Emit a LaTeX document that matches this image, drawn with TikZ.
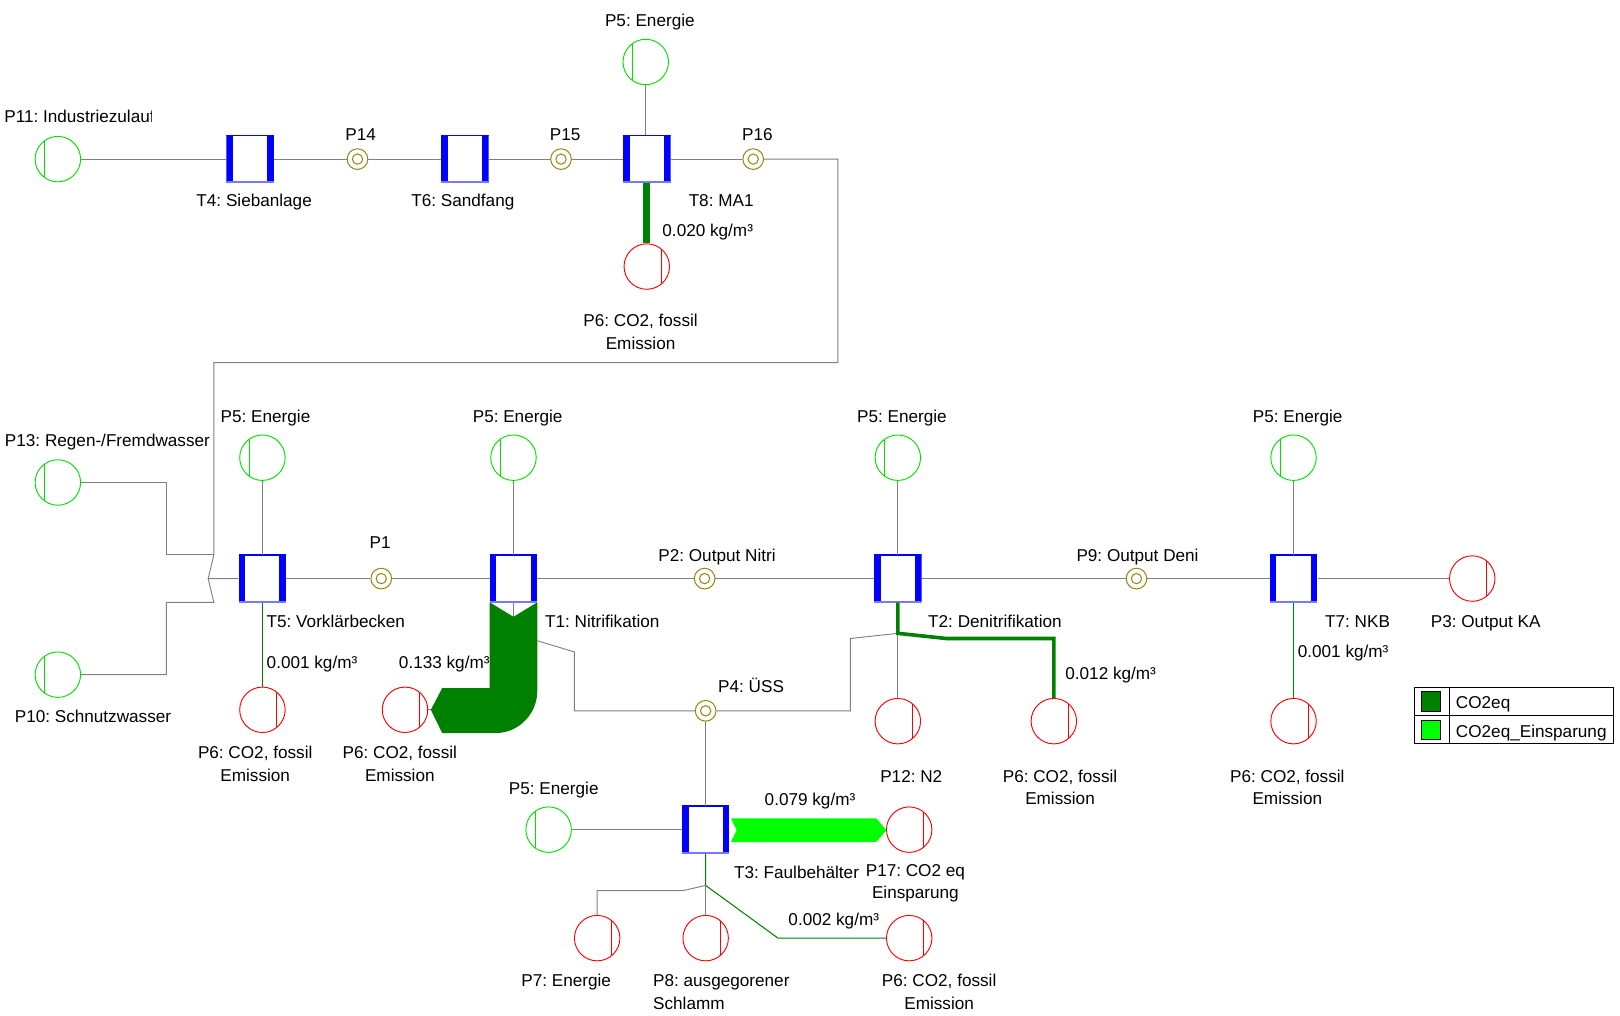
\documentclass[tikz,border=0pt]{standalone}
\usepackage{fontspec}
\setmainfont{Liberation Sans}
\frenchspacing
\definecolor{srcgreen}{RGB}{0,225,0}
\definecolor{snkred}{RGB}{255,0,0}
\definecolor{conngray}{RGB}{128,128,128}
\definecolor{tblue}{RGB}{0,0,255}
\definecolor{tblight}{RGB}{120,120,255}
\definecolor{plolive}{RGB}{150,135,20}
\definecolor{co2}{RGB}{0,128,0}
\definecolor{co2l}{RGB}{0,255,0}
\begin{document}
\frenchspacing
\begin{tikzpicture}[x=1pt,y=-1pt,
  src/.style={circle, draw=srcgreen, line width=0.9pt, minimum size=44pt, inner sep=0pt,
    path picture={\draw[srcgreen, line width=0.9pt] ([xshift=-13pt,yshift=18pt]path picture bounding box.center) -- ([xshift=-13pt,yshift=-18pt]path picture bounding box.center);}},
  snk/.style={circle, draw=snkred, line width=0.9pt, minimum size=44pt, inner sep=0pt,
    path picture={\draw[snkred, line width=0.9pt] ([xshift=14pt,yshift=17pt]path picture bounding box.center) -- ([xshift=14pt,yshift=-19pt]path picture bounding box.center);}},
  trans/.style={rectangle, minimum width=46pt, minimum height=46pt, inner sep=0pt, fill=white,
    path picture={
      \fill[tblue] (path picture bounding box.north west) rectangle ([xshift=6.5pt]path picture bounding box.south west);
      \fill[tblue] (path picture bounding box.north east) rectangle ([xshift=-6.5pt]path picture bounding box.south east);
      \draw[tblue, line width=2pt] (path picture bounding box.north west) -- (path picture bounding box.north east);
      \draw[tblight, line width=3pt] (path picture bounding box.south west) -- (path picture bounding box.south east);}},
  place/.style={circle, draw=plolive, line width=1pt, minimum size=20pt, inner sep=0pt,
    path picture={\draw[plolive, line width=1pt] (path picture bounding box.center) circle[radius=5pt];}},
  conn/.style={draw=conngray, line width=0.9pt},
  co2thin/.style={draw=co2, line width=1pt},
  lbl/.style={font=\fontsize{16.6}{22}\selectfont, inner sep=0pt, align=center},
  lbs/.style={font=\fontsize{16.6}{22}\selectfont, inner sep=0pt, text height=12pt, text depth=0pt, yshift=-1pt},
]
\useasboundingbox (0,0) rectangle (1568,983);

% ---------- nodes: top row
\node[src] (p11) at (56,154) {};
\node[trans] (t4) at (242,154) {};
\node[place] (p14) at (346,154) {};
\node[trans] (t6) at (450,154) {};
\node[place] (p15) at (543,154) {};
\node[trans] (t8) at (626,154) {};
\node[place] (p16) at (729,154) {};
\node[src] (p5a) at (625,60) {};
\node[snk] (p6a) at (626,258) {};

% ---------- middle row
\node[src] (p13) at (56,467) {};
\node[src] (p10) at (56,653) {};
\node[trans] (t5) at (254,560) {};
\node[src] (p5b) at (254,443) {};
\node[place] (p1) at (369,560) {};
\node[snk] (p6b) at (254,687) {};
\node[trans] (t1) at (497,560) {};
\node[src] (p5c) at (497,443) {};
\node[snk] (p6c) at (392,687) {};
\node[place] (p2) at (682,560) {};
\node[trans] (t2) at (869,560) {};
\node[src] (p5d) at (869,443) {};
\node[snk] (p12) at (869,698) {};
\node[snk] (p6d) at (1020,698) {};
\node[place] (p9) at (1100,560) {};
\node[trans] (t7) at (1252,560) {};
\node[src] (p5e) at (1252,443) {};
\node[snk] (p3) at (1425,560) {};
\node[snk] (p6e) at (1252,698) {};
\node[place] (p4) at (683,688) {};

% ---------- bottom
\node[trans] (t3) at (683,803) {};
\node[src] (p5f) at (531,803) {};
\node[snk] (p17) at (880,803) {};
\node[snk] (p7) at (578,908) {};
\node[snk] (p8) at (683,908) {};
\node[snk] (p6f) at (880,908) {};

% ---------- junction coordinates
\coordinate (ja) at (207,537);
\coordinate (jb) at (207,583);
\coordinate (jz) at (201.5,560);
\coordinate (jt2) at (869,613);
\coordinate (jt3) at (683,857);

% ---------- connectors
\draw[conn] (p11) -- (t4);
\draw[conn] (t4) -- (p14);
\draw[conn] (p14) -- (t6);
\draw[conn] (t6) -- (p15);
\draw[conn] (p15) -- (t8);
\draw[conn] (t8) -- (p16);
\draw[conn] (p5a) -- (p5a |- t8.north);
\draw[conn] (p16) -- (811,154) -- (811,351) -- (207,351) -- (ja) -- (jz) -- (t5);
\draw[conn] (p13) -- (161,467) -- (161,537) -- (ja);
\draw[conn] (p10) -- (161,653) -- (161,583) -- (jb) -- (jz);
\draw[conn] (t5) -- (p1);
\draw[conn] (p1) -- (t1);
\draw[conn] (t1) -- (p2);
\draw[conn] (p2) -- (t2);
\draw[conn] (t2) -- (p9);
\draw[conn] (p9) -- (t7);
\draw[conn] (t7) -- (p3);
\draw[conn] (p5b) -- (t5);
\draw[conn] (p5c) -- (t1);
\draw[conn] (p5d) -- (t2);
\draw[conn] (p5e) -- (t7);
\draw[co2thin] (t5) -- (p6b);
\draw[co2thin] (t7) -- (p6e);
\draw[conn] (t1.south) -- (497,687) -- (p6c);
\draw[conn] ([yshift=-37pt]t1.south east) -- (556,631) -- (556,688) -- (p4);
\draw[conn] (p4) -- (823,688) -- (823,618) -- (jt2);
\draw[conn] (jt2) -- (p12);
\draw[draw=co2, line width=3.5pt] (t2.south) -- (jt2) -- (916,618) -- (1020,618) -- (p6d);
\draw[draw=co2, line width=7pt] (t8) -- (p6a);
\draw[conn] (p4) -- (t3);
\draw[conn] (p5f) -- (t3);
\draw[co2thin] (t3) -- (jt3) -- (753,908) -- (p6f);
\draw[conn] (jt3) -- (661,862) -- (578,862) -- (p7);
\draw[conn] (jt3) -- (p8);

% ---------- flow bands
\fill[co2] (474,583) -- (497,597) -- (520,583) -- (520,669)
  .. controls (520,691) and (502,709.5) .. (480,709.5)
  -- (428,709.5) -- (417,687) -- (428,666) -- (474,666) -- cycle;
\fill[co2l] (707.5,792) -- (848,792) -- (858,803.5) -- (848,815) -- (707.5,815) -- (713,803.5) -- cycle;

% ---------- labels
\begin{scope}
\clip (0,90) rectangle (147,135);
\node[lbs, anchor=west] (l11) at (4,112) {P11: Industriezulauf};
\end{scope}
\node[lbs] (lt4) at (246,193) {T4: Siebanlage};
\node[lbs] (l14) at (349,129) {P14};
\node[lbs] (lt6) at (448,193) {T6: Sandfang};
\node[lbs] (l15) at (547,129) {P15};
\node[lbs] (lt8) at (698,193) {T8: MA1};
\node[lbs] (l16) at (733,129) {P16};
\node[lbs] (l5a) at (629,19) {P5: Energie};
\node[lbs] (lka) at (685,222) {0.020 kg/m³};
\node[lbl] (l6a) at (620,321) {P6: CO2, fossil\\Emission};

\node[lbs] (l13) at (104,425) {P13: Regen-/Fremdwasser};
\node[lbs] (l10) at (90,692) {P10: Schnutzwasser};
\node[lbs] (l5b) at (257,402) {P5: Energie};
\node[lbs] (l5c) at (501,402) {P5: Energie};
\node[lbs] (l5d) at (873,402) {P5: Energie};
\node[lbs] (l5e) at (1256,402) {P5: Energie};
\node[lbs] (l1) at (368,524) {P1};
\node[lbs] (lt5) at (325,600) {T5: Vorklärbecken};
\node[lbs] (lt1) at (583,600) {T1: Nitrifikation};
\node[lbs] (l2) at (694,536) {P2: Output Nitri};
\node[lbs] (lt2) at (963,600) {T2: Denitrifikation};
\node[lbs] (l9) at (1101,536) {P9: Output Deni};
\node[lbs] (lt7) at (1314,600) {T7: NKB};
\node[lbs] (l3) at (1438,600) {P3: Output KA};
\node[lbs] (lkb) at (302,640) {0.001 kg/m³};
\node[lbs] (lkc) at (430,640) {0.133 kg/m³};
\node[lbs] (l4) at (727,663) {P4: ÜSS};
\node[lbs] (lkd) at (1075,651) {0.012 kg/m³};
\node[lbs] (lke) at (1300,629) {0.001 kg/m³};
\node[lbl] (l6b) at (247,739) {P6: CO2, fossil\\Emission};
\node[lbl] (l6c) at (387,739) {P6: CO2, fossil\\Emission};
\node[lbs] (l12) at (882,750) {P12: N2};
\node[lbl] (l6d) at (1026,762) {P6: CO2, fossil\\Emission};
\node[lbl] (l6e) at (1246,762) {P6: CO2, fossil\\Emission};

\node[lbs] (l5f) at (536,762) {P5: Energie};
\node[lbs] (lkf) at (784,773) {0.079 kg/m³};
\node[lbs] (lt3) at (771,843) {T3: Faulbehälter};
\node[lbl] (l17) at (886,855) {P17: CO2 eq\\Einsparung};
\node[lbs] (lkg) at (807,889) {0.002 kg/m³};
\node[lbs] (l7) at (548,948) {P7: Energie};
\node[lbl, align=left, anchor=west] (l8) at (632,960) {P8: ausgegorener\\Schlamm};
\node[lbl] (l6f) at (909,960) {P6: CO2, fossil\\Emission};

% ---------- legend
\draw[black, line width=0.8pt] (1369,665) rectangle (1562,720);
\draw[black, line width=0.8pt] (1369,692.5) -- (1562,692.5);
\draw[black, line width=0.8pt] (1403,665) -- (1403,720);
\filldraw[fill=co2, draw=black, line width=0.6pt] (1376,669) rectangle (1394,688);
\filldraw[fill=co2l, draw=black, line width=0.6pt] (1376,697) rectangle (1394,716);
\node[lbs, anchor=west] (lg1) at (1409,679) {CO2eq};
\node[lbs, anchor=west] (lg2) at (1409,707) {CO2eq\_Einsparung};
\end{tikzpicture}
\end{document}
